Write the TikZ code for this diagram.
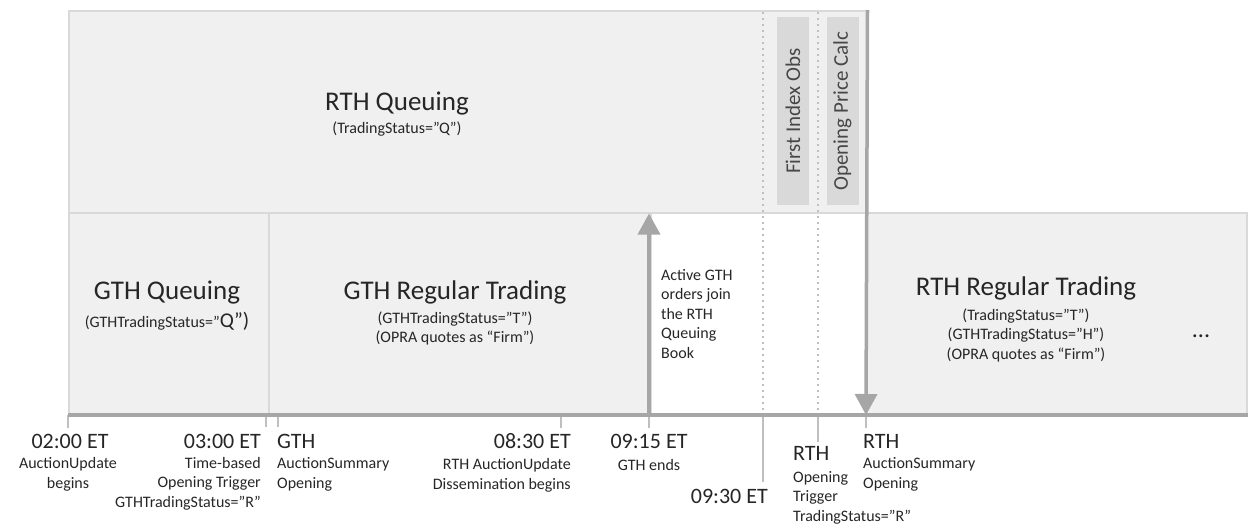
\documentclass[tikz,border=0pt]{standalone}
\usepackage{fontspec}
\setmainfont{Carlito}
\usetikzlibrary{arrows.meta,positioning}

\definecolor{boxfill}{HTML}{F0F0F0}
\definecolor{boxline}{HTML}{D9D9D9}
\definecolor{axisgray}{HTML}{A6A6A6}
\definecolor{tickgray}{HTML}{BFBFBF}
\definecolor{taggray}{HTML}{D9D9D9}
\definecolor{textgray}{HTML}{262626}

\newcommand{\titlefont}{\fontsize{27}{30}\selectfont}
\newcommand{\subfont}{\fontsize{16}{19.5}\selectfont}
\newcommand{\timefont}{\fontsize{22}{24}\selectfont}
\newcommand{\tagfont}{\fontsize{21}{24}\selectfont}

\begin{document}
\begin{tikzpicture}[x=1pt, y=-1pt,
            phaseBox/.style={draw=boxline, line width=1.5pt, fill=boxfill, anchor=north west, inner sep=0pt, minimum height=202pt},
            tagBox/.style={fill=taggray, rotate=90, minimum width=188pt, minimum height=32pt, inner sep=0pt, font=\tagfont, text=textgray!85},
            titleText/.style={font=\titlefont, text=textgray, inner sep=0pt, anchor=base},
            subText/.style={font=\subfont, text=textgray, inner sep=0pt, align=center, anchor=base},
            timeText/.style={font=\timefont, text=textgray, inner sep=0pt},
            noteText/.style={font=\subfont, text=textgray, inner sep=0pt},
            tickLine/.style={draw=tickgray, line width=2pt},
            dotLine/.style={draw=tickgray, line width=1.5pt, dash pattern=on 1.5pt off 4.5pt},
            axisLine/.style={draw=axisgray, line width=4.5pt},
            bigArrow/.style={draw=axisgray, line width=3.5pt, -{Triangle[width=22pt,length=21pt]}}]

            \useasboundingbox (0,0) rectangle (1248,525);

            \node [phaseBox, minimum width=798pt](rthQ) at (68,10){};
            \node [phaseBox, minimum width=200pt](gthQ) at (68,212){};
            \node [phaseBox, minimum width=382pt](gthRT) at (268,212){};
            \node [phaseBox, minimum width=380pt](rthRT) at (866,212){};

            \node [tagBox](firstObs) at (793,111){First Index Obs};
            \node [tagBox](openCalc) at (842.5,111){Opening Price Calc};

            \coordinate (a0200) at (68,415);
            \coordinate (a0300) at (266,415);
            \coordinate (aGTH) at (278,415);
            \coordinate (a0830) at (561,415);
            \coordinate (a0915) at (649,415);
            \coordinate (a0930) at (763,415);
            \coordinate (aTrig) at (818,415);
            \coordinate (aRTH) at (866,415);
            \coordinate (axisEnd) at (1248,415);

            \draw[dotLine] (763,12) -- (a0930);
            \draw[dotLine] (818,12) -- (aTrig);

            \foreach \p/\len in {a0200/13, a0300/12, aGTH/12, a0830/13, a0915/13, a0930/67, aTrig/27, aRTH/13}
                \draw[tickLine] (\p) -- ++(0,\len);
            \draw[axisLine] (a0200) -- (axisEnd);

            \draw[bigArrow] (a0915) -- (a0915 |- rthQ.south);
            \draw[bigArrow] (rthQ.north east) -- (aRTH);

            \node [titleText](rthQTitle) at (397,110){RTH Queuing};
            \node [subText](rthQSub) at (397,133){(TradingStatus=”Q”)};
            \node [titleText](gthQTitle) at (167,299){GTH Queuing};
            \node [subText](gthQSub) at (167,327){(GTHTradingStatus=”{\fontsize{21}{21}\selectfont Q”)}};
            \node [titleText](gthRTTitle) at (455,299){GTH Regular Trading};
            \node [subText](gthRTSub) at (455,342.5){(GTHTradingStatus=”T”)\\(OPRA quotes as “Firm”)};
            \node [titleText](rthRTTitle) at (1026,295){RTH Regular Trading};
            \node [subText](rthRTSub) at (1026,359){(TradingStatus=”T”)\\(GTHTradingStatus=”H”)\\(OPRA quotes as “Firm”)};
            \node [titleText, font=\fontsize{24}{24}\selectfont](more) at (1201,337){...};
            \node [noteText, align=left, anchor=base west](joinNote) at (661,358){Active GTH\\orders join\\the RTH\\Queuing\\Book};

            \node [timeText, anchor=base](t0200) at (70,448){02:00 ET};
            \node [noteText, align=center, anchor=base](d0200) at (68,488){AuctionUpdate\\begins};
            \node [timeText, anchor=base east](t0300) at (261,448){03:00 ET};
            \node [noteText, align=right, anchor=base east](d0300) at (261,507){Time-based\\Opening Trigger\\GTHTradingStatus=”R”};
            \node [timeText, anchor=base west](tGTH) at (277,448){GTH};
            \node [noteText, align=left, anchor=base west](dGTH) at (277,488){AuctionSummary\\Opening};
            \node [timeText, anchor=base east](t0830) at (571,448){08:30 ET};
            \node [noteText, align=right, anchor=base east](d0830) at (571,489){RTH AuctionUpdate\\Dissemination begins};
            \node [timeText, anchor=base](t0915) at (649,448){09:15 ET};
            \node [noteText, anchor=base](d0915) at (649,470){GTH ends};
            \node [timeText, anchor=base east](t0930) at (768,503){09:30 ET};
            \node [timeText, anchor=base west](tTrig) at (793,460){RTH};
            \node [noteText, align=left, anchor=base west](dTrig) at (793,521){Opening\\Trigger\\TradingStatus=”R”};
            \node [timeText, anchor=base west](tRTH) at (863,448){RTH};
            \node [noteText, align=left, anchor=base west](dRTH) at (863,488){AuctionSummary\\Opening};
\end{tikzpicture}
\end{document}
